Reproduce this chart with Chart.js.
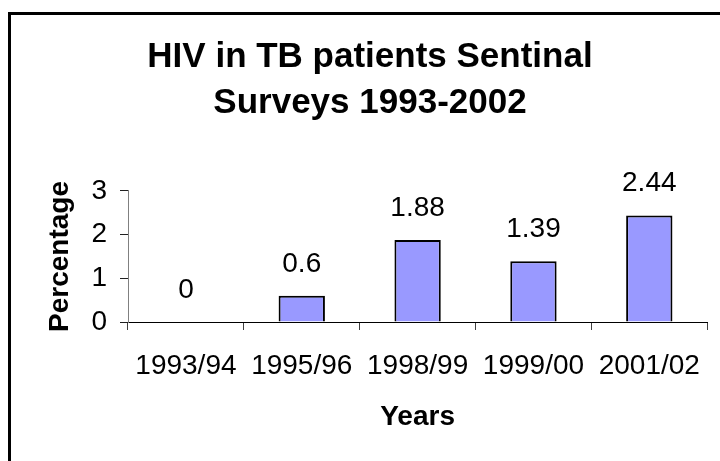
<!DOCTYPE html>
<html>
<head>
<meta charset="utf-8">
<script src="https://cdn.jsdelivr.net/npm/chart.js@4/dist/chart.umd.min.js"></script>
<style>
  body { margin: 0; background: #fff; }
  canvas { display: block; }
</style>
</head>
<body>
<canvas id="hivChart" width="720" height="461"></canvas>
<script>
// Data
const years = ['1993/94', '1995/96', '1998/99', '1999/00', '2001/02'];
const percentages = [0, 0.6, 1.88, 1.39, 2.44];
const valueLabels = ['0', '0.6', '1.88', '1.39', '2.44'];
const titleLines = ['HIV in TB patients Sentinal', 'Surveys 1993-2002'];

const fontFamily = '"Liberation Sans", Arial, sans-serif';

// Thick frame around the chart (runs off the right and bottom edge)
const framePlugin = {
    id: 'frame',
    beforeDraw(chart) {
        const ctx = chart.ctx;
        ctx.save();
        ctx.strokeStyle = '#000';
        ctx.lineWidth = 3;
        ctx.strokeRect(9.5, 13.5, 900, 700);
        ctx.restore();
    }
};

// Value labels above each bar
const valueLabelPlugin = {
    id: 'valueLabels',
    afterDatasetsDraw(chart) {
        const ctx = chart.ctx;
        const meta = chart.getDatasetMeta(0);
        ctx.save();
        ctx.font = '28px ' + fontFamily;
        ctx.fillStyle = '#000';
        ctx.textAlign = 'center';
        ctx.textBaseline = 'alphabetic';
        meta.data.forEach((bar, i) => {
            ctx.fillText(valueLabels[i], bar.x, bar.y - 24);
        });
        ctx.restore();
    }
};

const ctx = document.getElementById('hivChart').getContext('2d');
const hivChart = new Chart(ctx, {
    type: 'bar',
    data: {
        labels: years,
        datasets: [{
            data: percentages,
            backgroundColor: '#9999ff',
            borderColor: '#000',
            borderWidth: 2,
            barPercentage: 0.4,
            categoryPercentage: 1
        }]
    },
    options: {
        responsive: false,
        animation: false,
        layout: {
            padding: { left: 31, right: 11, top: 0, bottom: 0 }
        },
        plugins: {
            legend: { display: false },
            tooltip: { enabled: false },
            title: {
                display: true,
                text: titleLines,
                color: '#000',
                font: { family: fontFamily, size: 35, weight: 'bold', lineHeight: 1.314 },
                padding: { top: 34, bottom: 65 }
            }
        },
        scales: {
            x: {
                afterFit: (scale) => { scale.height = 139; },
                border: { display: true, color: '#000', width: 1 },
                grid: {
                    offset: true,
                    drawOnChartArea: false,
                    drawTicks: true,
                    tickLength: 8,
                    color: '#404040'
                },
                ticks: {
                    color: '#000',
                    font: { family: fontFamily, size: 28 },
                    padding: 19,
                    maxRotation: 0,
                    autoSkip: false
                },
                title: {
                    display: true,
                    text: 'Years',
                    color: '#000',
                    font: { family: fontFamily, size: 28, weight: 'bold' },
                    padding: { top: 0, bottom: 27 }
                }
            },
            y: {
                min: 0,
                max: 3,
                afterFit: (scale) => { scale.width = 97; },
                border: { display: true, color: '#808080', width: 1 },
                grid: {
                    drawOnChartArea: false,
                    drawTicks: true,
                    tickLength: 8,
                    color: '#202020'
                },
                ticks: {
                    stepSize: 1,
                    color: '#000',
                    font: { family: fontFamily, size: 28 },
                    padding: 13
                },
                title: {
                    display: true,
                    text: 'Percentage',
                    color: '#000',
                    font: { family: fontFamily, size: 28, weight: 'bold' },
                    padding: { top: 12, bottom: 0 }
                }
            }
        }
    },
    plugins: [framePlugin, valueLabelPlugin]
});
</script>
</body>
</html>
